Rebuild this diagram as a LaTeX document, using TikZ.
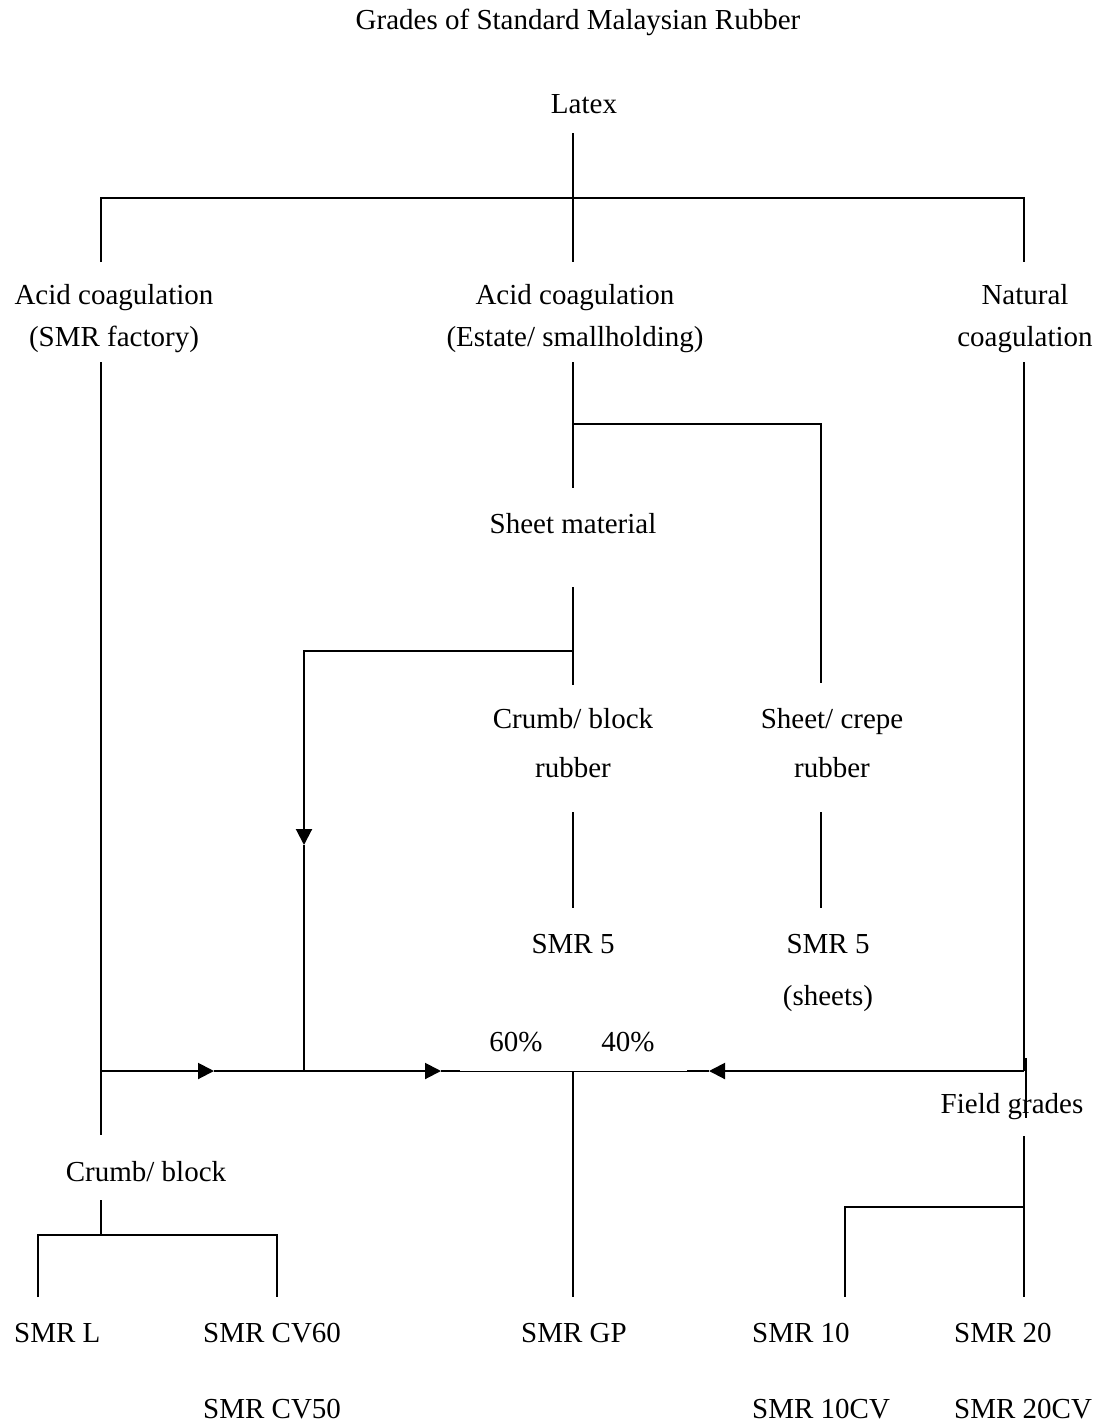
\documentclass[tikz,border=0pt]{standalone}
\usepackage{fontspec}
\setmainfont{Liberation Serif}
\usetikzlibrary{arrows.meta}
\begin{document}
\begin{tikzpicture}[x=1pt,y=-1pt,
 lbl/.style={inner sep=0pt, font=\fontsize{29}{35}\selectfont, align=center},
 lblL/.style={inner sep=0pt, font=\fontsize{29}{35}\selectfont, anchor=west},
 ln/.style={line width=2pt},
 thin/.style={line width=1pt},
 arr/.style={line width=2pt, -{Triangle[length=16pt,width=16pt]}}]
\useasboundingbox (0,0) rectangle (1105,1422);
% texts
\node[lbl] (title) at (578,22) {Grades of Standard Malaysian Rubber};
\node[lbl] (latex) at (584,104) {Latex};
\node[lbl, font=\fontsize{29}{42}\selectfont] (acidf) at (114,319) {Acid coagulation\\(SMR factory)};
\node[lbl, font=\fontsize{29}{42}\selectfont] (acide) at (575,319) {Acid coagulation\\(Estate/ smallholding)};
\node[lbl, font=\fontsize{29}{42}\selectfont] (natural) at (1025,319) {Natural\\coagulation};
\node[lbl] (sheetmat) at (573,524) {Sheet material};
\node[lbl, font=\fontsize{29}{49}\selectfont] (crumbr) at (573,743) {Crumb/ block\\rubber};
\node[lbl, font=\fontsize{29}{49}\selectfont] (sheetr) at (832,743) {Sheet/ crepe\\rubber};
\node[lbl] (smr5) at (573,944) {SMR 5};
\node[lbl, font=\fontsize{29}{52}\selectfont] (smr5s) at (828,973) {SMR 5\\(sheets)};
\node[lbl] (p60) at (516,1042) {60\%};
\node[lbl] (p40) at (628,1042) {40\%};
\node[lbl] (field) at (1012,1107) {Field grades};
\node[lbl] (crumbb) at (146,1172) {Crumb/ block};
\node[lblL] (smrl) at (14,1333) {SMR L};
\node[lblL] (cv60) at (203,1333) {SMR CV60};
\node[lblL] (cv50) at (203,1409) {SMR CV50};
\node[lblL] (gp) at (521,1333) {SMR GP};
\node[lblL] (s10) at (752,1333) {SMR 10};
\node[lblL] (s10cv) at (752,1409) {SMR 10CV};
\node[lblL] (s20) at (954,1333) {SMR 20};
\node[lblL] (s20cv) at (954,1409) {SMR 20CV};
% coordinates
\coordinate (latexS) at (573,133);
\coordinate (jTop) at (573,198);
\coordinate (barL) at (101,198);
\coordinate (barR) at (1024,198);
\coordinate (acidfN) at (101,262);
\coordinate (acideN) at (573,262);
\coordinate (naturalN) at (1024,262);
\coordinate (acidfS) at (101,362);
\coordinate (acideS) at (573,362);
\coordinate (naturalS) at (1024,362);
\coordinate (jSheet) at (573,424);
\coordinate (sheetCorner) at (821,424);
\coordinate (sheetmatN) at (573,488);
\coordinate (sheetrN) at (821,683);
\coordinate (sheetmatS) at (573,587);
\coordinate (jCrumb) at (573,651);
\coordinate (crumbCorner) at (304,651);
\coordinate (crumbrN) at (573,685);
\coordinate (aDown) at (304,845);
\coordinate (jMix) at (304,1071);
\coordinate (crumbrS) at (573,812);
\coordinate (smr5N) at (573,908);
\coordinate (sheetrS) at (821,812);
\coordinate (smr5sN) at (821,908);
\coordinate (jLeft) at (101,1071);
\coordinate (a1) at (214,1071);
\coordinate (a2) at (441,1071);
\coordinate (thinL) at (460,1071);
\coordinate (jGP) at (573,1071);
\coordinate (thinR) at (687,1071);
\coordinate (a3) at (709,1071);
\coordinate (jRight) at (1024,1071);
\coordinate (fieldTop) at (1026,1058);
\coordinate (fieldBot) at (1026,1118);
\coordinate (crumbbN) at (101,1135);
\coordinate (crumbbS) at (101,1200);
\coordinate (jCB) at (101,1235);
\coordinate (cbL) at (38,1235);
\coordinate (cbR) at (277,1235);
\coordinate (smrlN) at (38,1297);
\coordinate (cv60N) at (277,1297);
\coordinate (gpN) at (573,1297);
\coordinate (fieldS) at (1024,1136);
\coordinate (jF) at (1024,1207);
\coordinate (fL) at (845,1207);
\coordinate (s10N) at (845,1297);
\coordinate (s20N) at (1024,1297);
% connectors
\draw[ln] (latexS) -- (acideN);
\draw[ln] (acidfN) -- (barL) -- (barR) -- (naturalN);
\draw[ln] (acideS) -- (sheetmatN);
\draw[ln] (jSheet) -- (sheetCorner) -- (sheetrN);
\draw[ln] (sheetmatS) -- (crumbrN);
\draw[arr] (jCrumb) -- (crumbCorner) -- (aDown);
\draw[ln] (aDown) -- (jMix);
\draw[ln] (crumbrS) -- (smr5N);
\draw[ln] (sheetrS) -- (smr5sN);
\draw[ln] (acidfS) -- (crumbbN);
\draw[ln] (naturalS) -- (jRight);
\draw[arr] (jLeft) -- (a1);
\draw[ln] (a1) -- (jMix);
\draw[arr] (jMix) -- (a2);
\draw[ln] (a2) -- (thinL);
\draw[thin] (thinL) -- (thinR);
\draw[arr] (jRight) -- (a3);
\draw[ln] (a3) -- (thinR);
\draw[ln] (jGP) -- (gpN);
\draw[ln] (fieldTop) -- (fieldBot);
\draw[ln] (crumbbS) -- (jCB);
\draw[ln] (smrlN) -- (cbL) -- (cbR) -- (cv60N);
\draw[ln] (fieldS) -- (s20N);
\draw[ln] (jF) -- (fL) -- (s10N);
\end{tikzpicture}
\end{document}
